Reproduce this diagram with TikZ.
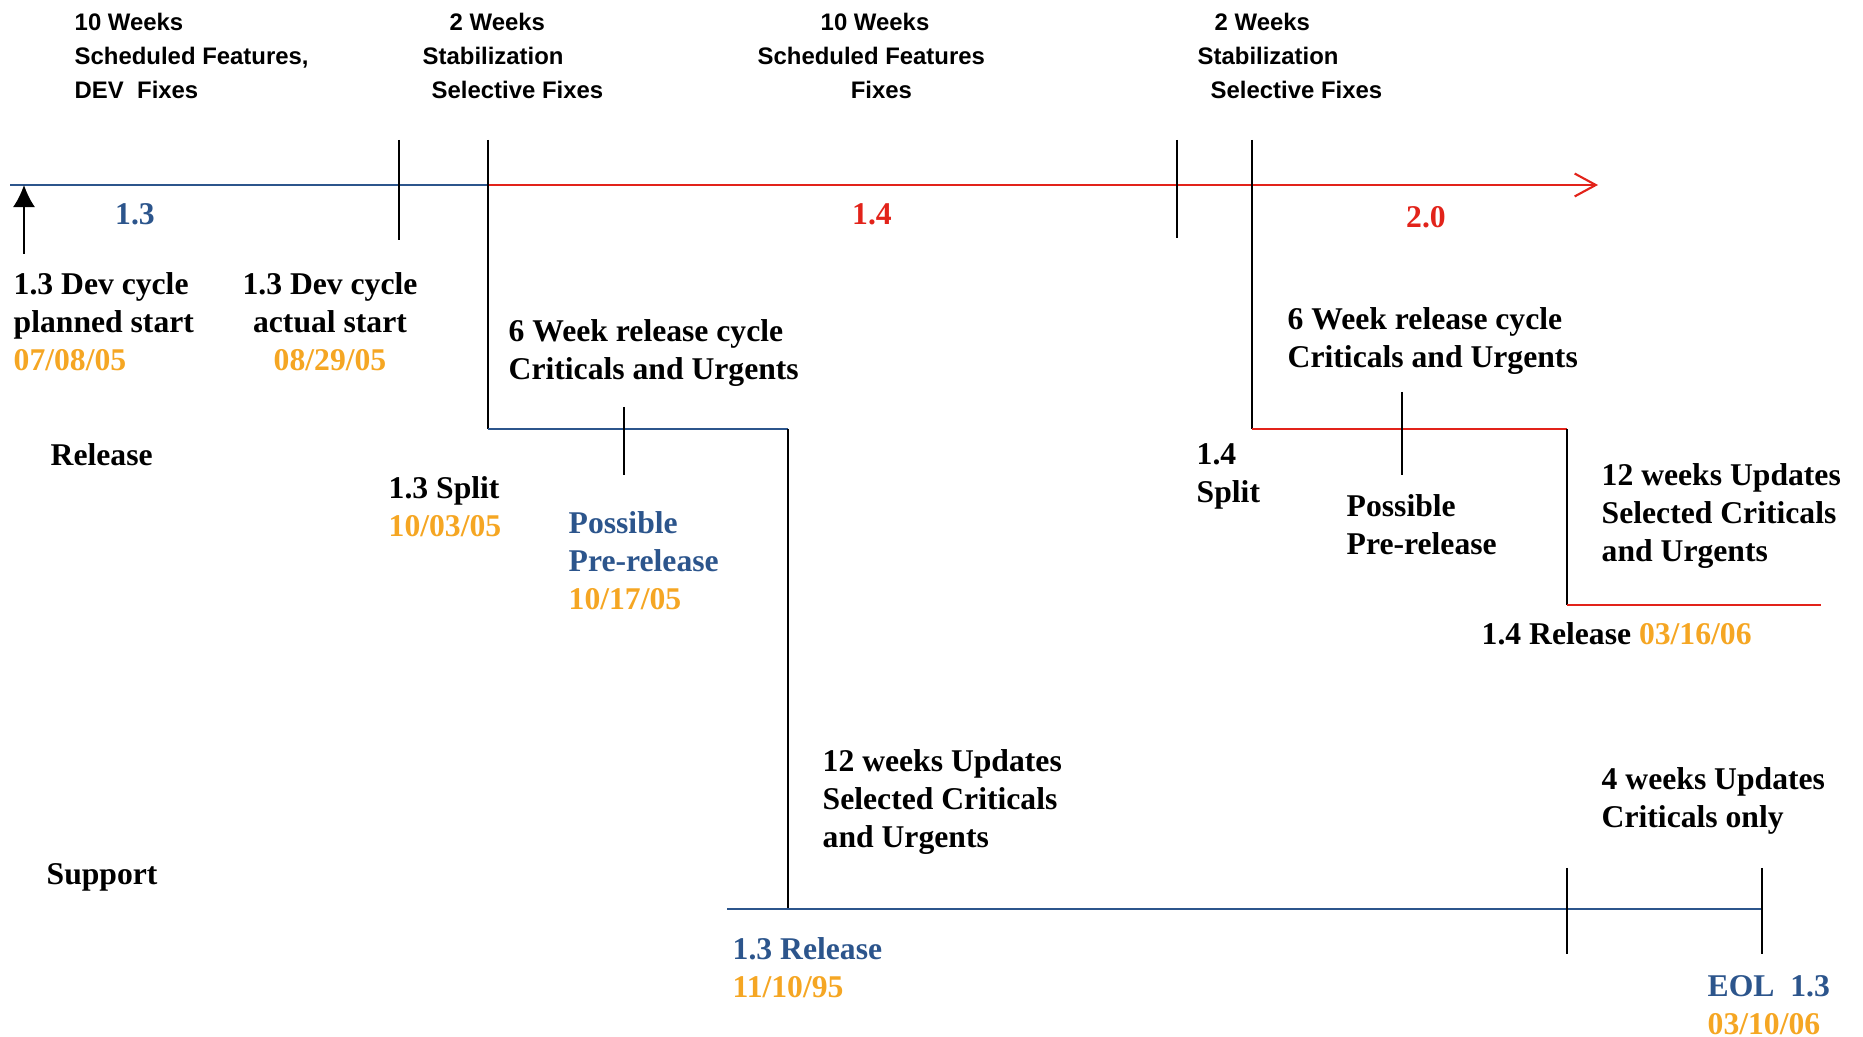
\documentclass[tikz,border=0pt]{standalone}
\usepackage{fontspec}
\setmainfont{Liberation Serif}
\setsansfont{Liberation Sans}
\usetikzlibrary{arrows.meta,positioning}
\definecolor{relblue}{RGB}{44,85,140}
\definecolor{relred}{RGB}{226,35,26}
\definecolor{datecol}{RGB}{245,166,35}
\newcommand{\datetxt}[1]{\textcolor{datecol}{#1}}
\newcommand{\bluetxt}[1]{\textcolor{relblue}{#1}}

\begin{document}
\begin{tikzpicture}[x=0.01cm,y=-0.01cm,
    lbl/.style={align=left,inner sep=0pt,anchor=north west,font=\bfseries\fontsize{9}{10.8}\selectfont},
    phase/.style={align=left,inner sep=0pt,anchor=north west,font=\sffamily\bfseries\fontsize{6.8}{9.8}\selectfont},
    ver/.style={inner sep=0pt,font=\bfseries\fontsize{9}{10.8}\selectfont},
    blueline/.style={draw=relblue,line width=0.6pt},
    redline/.style={draw=relred,line width=0.6pt},
    tick/.style={draw=black,line width=0.5pt}]
    \useasboundingbox (0,0) rectangle (1863,1037);
        \coordinate (t0) at (10,185);
        \coordinate (cut13) at (488,185);
        \coordinate (tip) at (1598,185);
        \coordinate (planA) at (24,254);
        \coordinate (planB) at (24,185);
        \coordinate (actA) at (399,140);
        \coordinate (actB) at (399,240);
        \coordinate (s13a) at (488,140);
        \coordinate (s13b) at (488,429);
        \coordinate (r13a) at (788,429);
        \coordinate (r13b) at (788,909);
        \coordinate (p13a) at (624,407);
        \coordinate (p13b) at (624,475);
        \coordinate (supA) at (727,909);
        \coordinate (supB) at (1762,909);
        \coordinate (w4a) at (1567,868);
        \coordinate (w4b) at (1567,954);
        \coordinate (eolA) at (1762,868);
        \coordinate (eolB) at (1762,954);
        \coordinate (stabA) at (1177,140);
        \coordinate (stabB) at (1177,238);
        \coordinate (s14a) at (1252,140);
        \coordinate (s14b) at (1252,429);
        \coordinate (r14a) at (1567,429);
        \coordinate (r14b) at (1567,605);
        \coordinate (r14end) at (1821,605);
        \coordinate (p14a) at (1402,392);
        \coordinate (p14b) at (1402,475);

        \node[phase] (phA) at (74,12) {10 Weeks\\Scheduled Features,\\DEV~~Fixes};
        \node[phase] (phB) at (422,12) {\hspace{0.27cm}2 Weeks\\Stabilization\\\hspace{0.09cm}Selective Fixes};
        \node[phase] (phC) at (757,12) {\hspace{0.63cm}10 Weeks\\Scheduled Features\\\hspace{0.93cm}Fixes};
        \node[phase] (phD) at (1197,12) {\hspace{0.17cm}2 Weeks\\Stabilization\\\hspace{0.13cm}Selective Fixes};

        \node[ver,text=relblue] (v13) at (135,214) {1.3};
        \node[ver,text=relred] (v14) at (872,214) {1.4};
        \node[ver,text=relred] (v20) at (1426,217) {2.0};

        \node[lbl] (planned) at (13,272) {1.3 Dev cycle\\planned start\\\datetxt{07/08/05}};
        \node[lbl,align=center,anchor=north] (actual) at (330,272) {1.3 Dev cycle\\actual start\\\datetxt{08/29/05}};
        \node[lbl] (cyc13) at (508,319) {6 Week release cycle\\Criticals and Urgents};
        \node[lbl] (rellane) at (50,443) {Release};
        \node[lbl] (split13) at (388,476) {1.3 Split\\\datetxt{10/03/05}};
        \node[lbl] (pre13) at (568,511) {\bluetxt{Possible}\\\bluetxt{Pre-release}\\\datetxt{10/17/05}};
        \node[lbl] (upd13) at (822,749) {12 weeks Updates\\Selected Criticals\\and Urgents};
        \node[lbl] (suplane) at (46,863) {Support};
        \node[lbl] (rel13) at (732,937) {\bluetxt{1.3 Release}\\\datetxt{11/10/95}};
        \node[lbl] (cyc14) at (1287,307) {6 Week release cycle\\Criticals and Urgents};
        \node[lbl] (split14) at (1196,443) {1.4\\Split};
        \node[lbl] (pre14) at (1346,494) {Possible\\Pre-release};
        \node[lbl] (upd14) at (1601,463) {12 weeks Updates\\Selected Criticals\\and Urgents};
        \node[lbl] (rel14) at (1481,622) {1.4 Release \datetxt{03/16/06}};
        \node[lbl] (upd4) at (1601,767) {4 weeks Updates\\Criticals only};
        \node[lbl] (eol) at (1707,975) {\bluetxt{EOL~~1.3}\\\datetxt{03/10/06}};

        \draw[blueline] (t0) -- (cut13);
        \draw[redline,-{Straight Barb[length=6pt,width=6.5pt]}] (cut13) -- (tip);
        \draw[tick,-{Latex[length=6.3pt,width=6.3pt]}] (planA) -- (planB);
        \draw[tick] (actA) -- (actB);
        \draw[tick] (s13a) -- (s13b);
        \draw[blueline] (s13b) -- (r13a);
        \draw[tick] (r13a) -- (r13b);
        \draw[tick] (p13a) -- (p13b);
        \draw[blueline] (supA) -- (supB);
        \draw[tick] (w4a) -- (w4b);
        \draw[tick] (eolA) -- (eolB);
        \draw[tick] (stabA) -- (stabB);
        \draw[tick] (s14a) -- (s14b);
        \draw[redline] (s14b) -- (r14a);
        \draw[tick] (r14a) -- (r14b);
        \draw[redline] (r14b) -- (r14end);
        \draw[tick] (p14a) -- (p14b);
    \end{tikzpicture}
\end{document}
